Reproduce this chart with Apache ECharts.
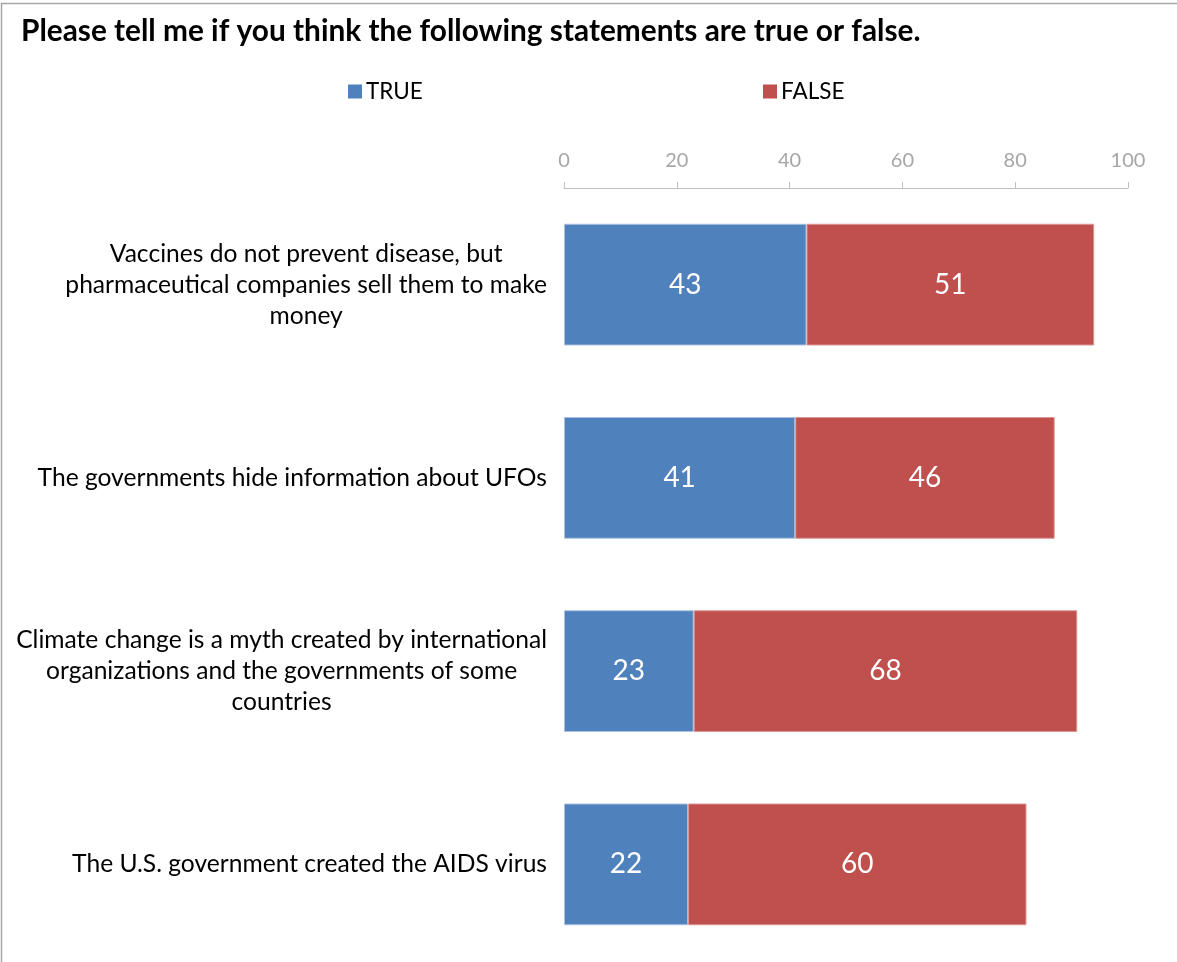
<!DOCTYPE html>
<html>
<head>
<meta charset="utf-8">
<script src="https://cdn.jsdelivr.net/npm/echarts@6/dist/echarts.min.js"></script>
<style>
html,body{margin:0;padding:0;background:#fff;}
#chart{width:1177px;height:962px;}
</style>
</head>
<body>
<div id="chart"></div>
<script>
const titleText = 'Please tell me if you think the following statements are true or false.';
const categories = [
  'Vaccines do not prevent disease, but\npharmaceutical companies sell them to make\nmoney',
  'The governments hide information about UFOs',
  'Climate change is a myth created by international\norganizations and the governments of some\ncountries',
  'The U.S. government created the AIDS virus'
];
const seriesNames = ['TRUE', 'FALSE'];
const trueValues = [43, 41, 23, 22];
const falseValues = [51, 46, 68, 60];
const tickValues = { min: 0, max: 100, interval: 20 };

const FONT = 'Lato';
const chart = echarts.init(document.getElementById('chart'), null, { renderer: 'canvas' });

function labelFormatter(v) {
  return v.split('\n').map(l => '{c|' + l + '}').join('\n');
}

chart.setOption({
  animation: false,
  backgroundColor: '#fff',
  graphic: [{
    type: 'rect',
    shape: { x: 1.5, y: 3.5, width: 1300, height: 1100 },
    style: { fill: 'none', stroke: '#a6a6a6', lineWidth: 1.5 },
    silent: true
  }],
  title: {
    text: titleText,
    left: 16, top: 11,
    textStyle: { fontFamily: FONT, fontWeight: 'bold', fontSize: 29.8, color: '#000' }
  },
  legend: [{
    data: [seriesNames[0]],
    left: 343, top: 75,
    itemWidth: 14, itemHeight: 14, itemGap: 6,
    icon: 'rect',
    itemStyle: { borderWidth: 0 },
    textStyle: { fontFamily: FONT, fontSize: 22.5, color: '#000', padding: [0, 0, 0, -1] }
  }, {
    data: [seriesNames[1]],
    left: 758, top: 75,
    itemWidth: 14, itemHeight: 14, itemGap: 6,
    icon: 'rect',
    itemStyle: { borderWidth: 0 },
    textStyle: { fontFamily: FONT, fontSize: 22.5, color: '#000', padding: [0, 0, 0, -1] }
  }],
  grid: { left: 564, right: 49, top: 188, bottom: 1, containLabel: false },
  xAxis: {
    type: 'value',
    position: 'top',
    min: tickValues.min, max: tickValues.max, interval: tickValues.interval,
    axisLine: { show: true, lineStyle: { color: '#bfbfbf', width: 1 } },
    axisTick: { show: true, length: 6, lineStyle: { color: '#bfbfbf' } },
    axisLabel: { fontFamily: FONT, fontSize: 20, color: '#a6a6a6', margin: 17 },
    splitLine: { show: false }
  },
  yAxis: {
    type: 'category',
    inverse: true,
    data: categories,
    axisLine: { show: false },
    axisTick: { show: false },
    axisLabel: {
      margin: 17,
      align: 'right',
      formatter: labelFormatter,
      rich: { c: { align: 'center', fontFamily: FONT, fontSize: 24.6, color: '#000', lineHeight: 31 } }
    }
  },
  series: [{
    name: seriesNames[0], type: 'bar', stack: 'a',
    data: trueValues,
    barCategoryGap: '37%',
    itemStyle: { color: '#4f81bd', borderColor: '#a9c0e0', borderWidth: 1 },
    label: { show: true, position: 'inside', color: '#fff', fontFamily: FONT, fontSize: 28 }
  }, {
    name: seriesNames[1], type: 'bar', stack: 'a',
    data: falseValues,
    barCategoryGap: '37%',
    itemStyle: { color: '#c0504d', borderColor: '#d99694', borderWidth: 1 },
    label: { show: true, position: 'inside', color: '#fff', fontFamily: FONT, fontSize: 28 }
  }]
});
</script>
</body>
</html>
